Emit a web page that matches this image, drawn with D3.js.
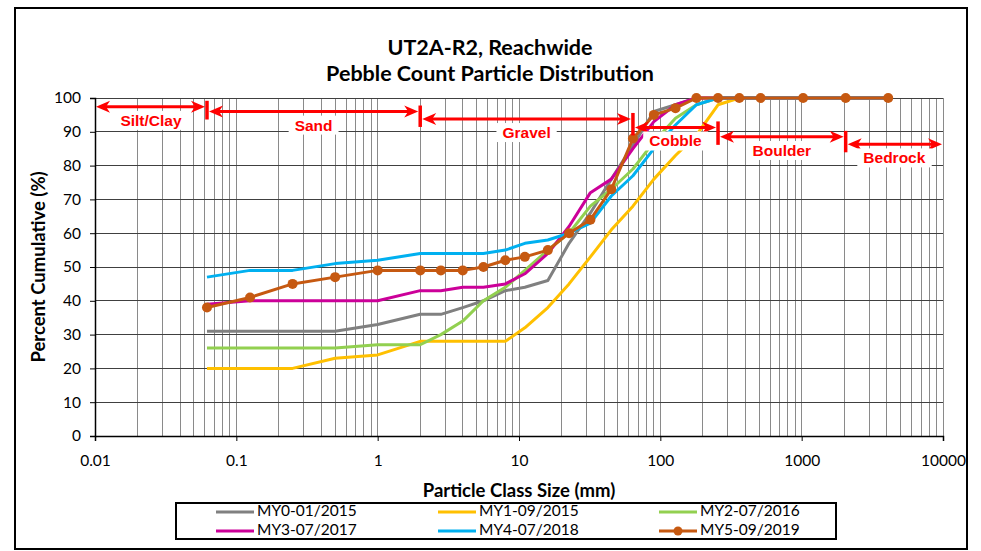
<!DOCTYPE html>
<html>
<head>
<meta charset="utf-8">
<script src="https://cdn.jsdelivr.net/npm/d3@7"></script>
<style>
  html, body { margin: 0; padding: 0; background: #fff; }
  svg { display: block; }
</style>
</head>
<body>
<svg id="chart" width="981" height="551"></svg>
<script>
// Sieve class sizes (mm) shared by every survey
const sizes = [0.062, 0.125, 0.25, 0.5, 1, 2, 2.8, 4, 5.6, 8, 11, 16, 22.6, 32, 45, 64, 90, 128, 180, 256, 362, 512, 1024, 2048, 4096];

// Percent cumulative for each monitoring year
const my0 = [31, 31, 31, 31, 33, 36, 36, 38, 40, 43, 44, 46, 57, 66, 76, 86, 96, 98, 100, 100, 100, 100, 100, 100, 100];
const my1 = [20, 20, 20, 23, 24, 28, 28, 28, 28, 28, 32, 38, 45, 53, 61, 68, 76, 83, 89, 98, 100, 100, 100, 100, 100];
const my2 = [26, 26, 26, 26, 27, 27, 30, 34, 40, 44, 49, 55, 60, 68, 73, 79, 87, 94, 98, 100, 100, 100, 100, 100, 100];
const my3 = [39, 40, 40, 40, 40, 43, 43, 44, 44, 45, 48, 54, 62, 72, 76, 85, 93, 98, 100, 100, 100, 100, 100, 100, 100];
const my4 = [47, 49, 49, 51, 52, 54, 54, 54, 54, 55, 57, 58, 60, 63, 71, 77, 85, 92, 98, 100, 100, 100, 100, 100, 100];
const my5 = [38, 41, 45, 47, 49, 49, 49, 49, 50, 52, 53, 55, 60, 64, 73, 88, 95, 97, 100, 100, 100, 100, 100, 100, 100];

const seriesNames = ["MY0-01/2015", "MY1-09/2015", "MY2-07/2016", "MY3-07/2017", "MY4-07/2018", "MY5-09/2019"];
const seriesColors = ["#808080", "#FFC000", "#92D050", "#CC0099", "#00B0F0", "#C65911"];
const seriesValues = [my0, my1, my2, my3, my4, my5];
const seriesMarkers = [false, false, false, false, false, true];

// Axis ticks
const xTickValues = [0.01, 0.1, 1, 10, 100, 1000, 10000];
const xTickLabels = ["0.01", "0.1", "1", "10", "100", "1000", "10000"];
const yTickValues = [0, 10, 20, 30, 40, 50, 60, 70, 80, 90, 100];

// Particle size classes (mm) with the cumulative level of their arrow
const classNames = ["Silt/Clay", "Sand", "Gravel", "Cobble", "Boulder", "Bedrock"];
const classBounds = [[0.01, 0.062], [0.062, 2], [2, 64], [64, 256], [256, 2048], [2048, 10000]];
const classLevels = [97.4, 96.0, 93.8, 91.3, 88.5, 86.3];

const svg = d3.select("#chart");
const plot = { left: 95, right: 943, top: 98, bottom: 436 };

const x = d3.scaleLog().domain([0.01, 10000]).range([plot.left, plot.right]);
const y = d3.scaleLinear().domain([0, 100]).range([plot.bottom, plot.top]);

const font = "Lato, 'Open Sans', sans-serif";
const arial = "'Liberation Sans', Arial, sans-serif";

// Outer chart frame
svg.append("rect")
  .attr("x", 15).attr("y", 8).attr("width", 952).attr("height", 541)
  .attr("fill", "#fff").attr("stroke", "#000").attr("stroke-width", 2);

// Title
svg.append("text")
  .attr("x", 490).attr("y", 55)
  .attr("text-anchor", "middle")
  .attr("font-family", font).attr("font-weight", "bold").attr("font-size", 21.5)
  .text("UT2A-R2, Reachwide");
svg.append("text")
  .attr("x", 490).attr("y", 81)
  .attr("text-anchor", "middle")
  .attr("font-family", font).attr("font-weight", "bold").attr("font-size", 21.5)
  .text("Pebble Count Particle Distribution");

// Gridlines
const grid = svg.append("g").attr("shape-rendering", "crispEdges");
grid.selectAll(".vgrid")
  .data(x.ticks().filter(d => d > 0.01))
  .join("line")
  .attr("class", "vgrid")
  .attr("x1", d => x(d)).attr("x2", d => x(d))
  .attr("y1", plot.top).attr("y2", plot.bottom)
  .attr("stroke", "#8a8a8a").attr("stroke-width", 1);
grid.selectAll(".hgrid")
  .data(yTickValues.filter(d => d > 0))
  .join("line")
  .attr("class", "hgrid")
  .attr("x1", plot.left).attr("x2", plot.right)
  .attr("y1", d => y(d)).attr("y2", d => y(d))
  .attr("stroke", "#404040").attr("stroke-width", 1);

// Axes
const yAxis = svg.append("g")
  .attr("transform", `translate(${plot.left},0)`)
  .call(d3.axisLeft(y).tickValues(yTickValues).tickSize(5).tickPadding(9).tickFormat(d3.format("d")));
const xAxis = svg.append("g")
  .attr("transform", `translate(0,${plot.bottom})`)
  .call(d3.axisBottom(x).tickValues(xTickValues).tickSize(5).tickPadding(14)
    .tickFormat((d, i) => xTickLabels[i]));
[xAxis, yAxis].forEach(g => {
  g.select(".domain").attr("stroke", "#000").attr("stroke-width", 1.5);
  g.selectAll(".tick line").attr("stroke", "#000");
  g.selectAll(".tick text").attr("font-family", font).attr("font-size", 15.5).attr("fill", "#000");
});

// Axis titles
svg.append("text")
  .attr("transform", `translate(45,${(plot.top + plot.bottom) / 2}) rotate(-90)`)
  .attr("text-anchor", "middle")
  .attr("font-family", font).attr("font-weight", "bold").attr("font-size", 18.5)
  .text("Percent Cumulative (%)");
svg.append("text")
  .attr("x", (plot.left + plot.right) / 2).attr("y", 497)
  .attr("text-anchor", "middle")
  .attr("font-family", font).attr("font-weight", "bold").attr("font-size", 18.5)
  .text("Particle Class Size (mm)");

// Distribution curves
const line = d3.line().x(d => x(d[0])).y(d => y(d[1]));
seriesValues.forEach((vals, i) => {
  const pts = sizes.map((s, j) => [s, vals[j]]);
  svg.append("path")
    .datum(pts)
    .attr("fill", "none")
    .attr("stroke", seriesColors[i])
    .attr("stroke-width", 3)
    .attr("stroke-linejoin", "round")
    .attr("d", line);
  if (seriesMarkers[i]) {
    svg.append("g").selectAll("circle")
      .data(pts)
      .join("circle")
      .attr("cx", d => x(d[0])).attr("cy", d => y(d[1]))
      .attr("r", 5)
      .attr("fill", seriesColors[i]);
  }
});

// Size class annotations
const red = "#FF0000";
const ann = svg.append("g");
function arrowHead(px, py, dir) {
  // dir = -1 points left, +1 points right
  const L = 14, h = 6;
  ann.append("path")
    .attr("d", `M${px},${py} L${px - dir * L},${py - h} L${px - dir * (L - 4)},${py} L${px - dir * L},${py + h} Z`)
    .attr("fill", red);
}
classBounds.forEach((b, i) => {
  const yy = y(classLevels[i]);
  const xa = x(b[0]) + (i === 0 ? 1 : 2);
  const xb = x(b[1]) - (i === classBounds.length - 1 ? 1 : 2);
  ann.append("line")
    .attr("x1", xa + 5).attr("x2", xb - 5)
    .attr("y1", yy).attr("y2", yy)
    .attr("stroke", red).attr("stroke-width", 3);
  arrowHead(xa, yy, -1);
  arrowHead(xb, yy, 1);
  // label with white backing box
  const cx = (x(b[0]) + x(b[1])) / 2;
  const ty = yy + 15;
  const t = ann.append("text")
    .attr("x", cx).attr("y", ty)
    .attr("text-anchor", "middle").attr("dominant-baseline", "middle")
    .attr("font-family", arial).attr("font-weight", "bold").attr("font-size", 15.5)
    .attr("fill", red)
    .text(classNames[i]);
  const bb = t.node().getBBox();
  ann.insert("rect", () => t.node())
    .attr("x", bb.x - 6).attr("y", bb.y - 1)
    .attr("width", bb.width + 12).attr("height", bb.height + 2)
    .attr("fill", "#fff");
  // boundary bar at the right edge of each class (except the last)
  if (i < classBounds.length - 1) {
    const yNext = y(classLevels[i + 1]);
    ann.append("line")
      .attr("x1", x(b[1])).attr("x2", x(b[1]))
      .attr("y1", yy - 6).attr("y2", yNext + 8)
      .attr("stroke", red).attr("stroke-width", 3.5);
  }
});

// Legend
const legend = svg.append("g");
legend.append("rect")
  .attr("x", 176).attr("y", 503).attr("width", 660).attr("height", 36)
  .attr("fill", "#fff").attr("stroke", "#000").attr("stroke-width", 2);
const colX = [216, 438, 659];
const rowY = [512, 531];
seriesNames.forEach((name, i) => {
  const lx = colX[i % 3], ly = rowY[Math.floor(i / 3)];
  legend.append("line")
    .attr("x1", lx).attr("x2", lx + 38)
    .attr("y1", ly).attr("y2", ly)
    .attr("stroke", seriesColors[i]).attr("stroke-width", 3);
  if (seriesMarkers[i]) {
    legend.append("circle").attr("cx", lx + 19).attr("cy", ly).attr("r", 4.5).attr("fill", seriesColors[i]);
  }
  legend.append("text")
    .attr("x", lx + 41).attr("y", ly)
    .attr("dominant-baseline", "middle")
    .attr("font-family", font).attr("font-size", 15.5)
    .text(name);
});
</script>
</body>
</html>
